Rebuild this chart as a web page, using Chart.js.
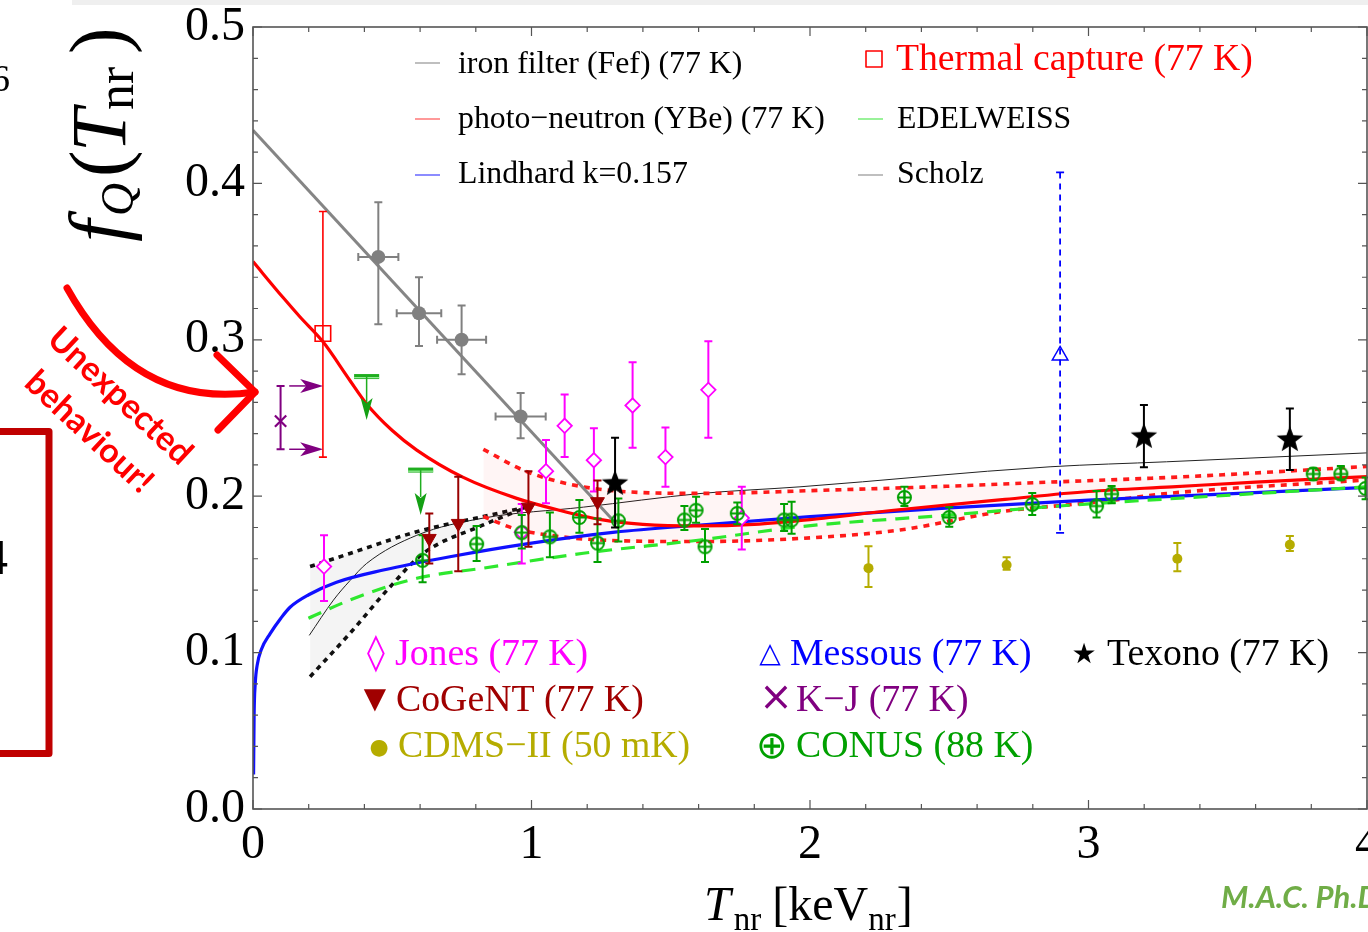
<!DOCTYPE html>
<html>
<head>
<meta charset="utf-8">
<script src="https://cdn.jsdelivr.net/npm/chart.js@4.4.1/dist/chart.umd.min.js"></script>
<style>
  html, body { margin: 0; padding: 0; background: #fff; overflow: hidden; }
  #wrap { position: relative; width: 1400px; height: 932px; }
</style>
</head>
<body>
<div id="wrap"><canvas id="chart"></canvas></div>
<script>
const SERIF = "'Liberation Serif', 'Times New Roman', 'DejaVu Serif', serif";
const SANS = "Lato, 'Open Sans', sans-serif";
const SYM = "'DejaVu Sans', 'Liberation Serif', sans-serif";

// axis ticks
const xTicks = [0, 1, 2, 3, 4];
const yTicks = [0, 0.1, 0.2, 0.3, 0.4, 0.5];

// fitted curves
const ironFitX = [0, 1.306];
const ironFitY = [0.434, 0.182];

const photoX = [0, 0.108, 0.169, 0.25, 0.348, 0.408, 0.5, 0.588, 0.755, 0.947, 1.1, 1.25, 1.4, 1.6, 1.8, 2.0, 2.3, 2.7, 3.0, 3.3, 3.6, 4.0];
const photoY = [0.350, 0.327, 0.3146, 0.299, 0.274, 0.259, 0.242, 0.2295, 0.212, 0.1986, 0.191, 0.185, 0.182, 0.181, 0.182, 0.185, 0.191, 0.198, 0.203, 0.206, 0.209, 0.2125];

const bandUpX = [0.827, 0.983, 1.222, 1.605, 2.08, 2.44, 2.862, 3.34, 4.0];
const bandUpY = [0.2300, 0.2157, 0.2050, 0.2018, 0.2040, 0.2060, 0.2090, 0.2124, 0.2190];
const bandLoX = [0.827, 0.935, 1.066, 1.246, 1.605, 1.964, 2.323, 2.682, 3.04, 3.281, 4.0];
const bandLoY = [0.1870, 0.1795, 0.1750, 0.1720, 0.1710, 0.1730, 0.1784, 0.1900, 0.1964, 0.2017, 0.2104];

const lindX = [0.002, 0.004, 0.008, 0.015, 0.03, 0.061, 0.1, 0.133, 0.2, 0.3, 0.468, 0.707, 1.0, 1.3, 1.605, 2.0, 2.5, 3.0, 3.5, 4.0];
const lindY = [0.022, 0.060, 0.080, 0.092, 0.102, 0.112, 0.122, 0.129, 0.137, 0.145, 0.1528, 0.1613, 0.170, 0.177, 0.1816, 0.187, 0.1925, 0.1975, 0.2015, 0.2056];

const edelX = [0.199, 0.348, 0.588, 0.827, 1.186, 1.605, 1.964, 2.5, 2.862, 3.04, 3.52, 4.0];
const edelY = [0.122, 0.1336, 0.1475, 0.154, 0.1635, 0.172, 0.1805, 0.188, 0.1933, 0.1955, 0.2008, 0.206];

const dotUpX = [0.205, 0.348, 0.588, 0.827, 0.983];
const dotUpY = [0.155, 0.1634, 0.1773, 0.187, 0.193];
const dotLoX = [0.205, 0.348, 0.492, 0.611, 0.827, 0.983];
const dotLoY = [0.0846, 0.1123, 0.142, 0.1634, 0.1816, 0.193];

const scholzX = [0.202, 0.289, 0.348, 0.408, 0.588, 0.827, 1.186, 1.605, 1.964, 2.862, 3.28, 4.0];
const scholzY = [0.111, 0.1336, 0.146, 0.157, 0.175, 0.186, 0.193, 0.2017, 0.206, 0.2188, 0.222, 0.2277];

// measurements
const ironX = [0.45, 0.596, 0.749, 0.961];
const ironY = [0.353, 0.317, 0.300, 0.251];
const ironHi = [0.388, 0.340, 0.322, 0.266];
const ironLo = [0.310, 0.296, 0.278, 0.237];
const ironXErr = [0.072, 0.080, 0.088, 0.090];

const thermX = [0.251];
const thermY = [0.304];
const thermHi = [0.382];
const thermLo = [0.225];

const kjX = [0.099];
const kjY = [0.248];
const kjHi = [0.2705];
const kjLo = [0.230];
const kjArrowFrom = 0.13;
const kjArrowTo = 0.252;

const limX = [0.408, 0.602];
const limY = [0.2765, 0.2167];
const limTip = [0.2487, 0.188];
const limHalf = 0.045;

const jonesX = [0.255, 0.965, 1.052, 1.119, 1.224, 1.363, 1.481, 1.635, 1.755];
const jonesY = [0.155, 0.177, 0.216, 0.245, 0.223, 0.258, 0.225, 0.268, 0.186];
const jonesHi = [0.175, 0.195, 0.236, 0.265, 0.2435, 0.2856, 0.244, 0.299, 0.206];
const jonesLo = [0.133, 0.157, 0.1955, 0.225, 0.203, 0.231, 0.206, 0.2374, 0.166];

const cogentX = [0.633, 0.737, 0.989, 1.237];
const cogentY = [0.173, 0.1826, 0.193, 0.1965];
const cogentHi = [0.189, 0.2125, 0.216, 0.210];
const cogentLo = [0.157, 0.152, 0.1677, 0.182];

const texonoX = [1.30, 3.199, 3.723];
const texonoY = [0.208, 0.238, 0.236];
const texonoHi = [0.2374, 0.2583, 0.256];
const texonoLo = [0.180, 0.2185, 0.2167];

const messousX = [2.898];
const messousY = [0.290];
const messousHi = [0.407];
const messousLo = [0.1765];

const cdmsX = [2.21, 2.706, 3.319, 3.723];
const cdmsY = [0.154, 0.156, 0.160, 0.169];
const cdmsHi = [0.168, 0.161, 0.170, 0.1745];
const cdmsLo = [0.142, 0.153, 0.152, 0.165];

const conusX = [0.609, 0.803, 0.965, 1.066, 1.172, 1.237, 1.312, 1.549, 1.591, 1.623, 1.739, 1.907, 1.934, 2.339, 2.50, 2.798, 3.029, 3.083, 3.807, 3.906, 3.995];
const conusY = [0.159, 0.1694, 0.1767, 0.174, 0.1864, 0.170, 0.1843, 0.1848, 0.191, 0.1677, 0.189, 0.1848, 0.1848, 0.1992, 0.1864, 0.1947, 0.1937, 0.2014, 0.2142, 0.2142, 0.205];
const conusHi = [0.175, 0.181, 0.188, 0.1895, 0.1976, 0.1857, 0.1985, 0.1937, 0.1997, 0.179, 0.196, 0.195, 0.1965, 0.206, 0.193, 0.202, 0.2033, 0.2065, 0.2178, 0.2193, 0.212];
const conusLo = [0.145, 0.1586, 0.1666, 0.161, 0.1767, 0.158, 0.171, 0.1784, 0.183, 0.158, 0.182, 0.1777, 0.176, 0.1937, 0.1805, 0.188, 0.1864, 0.1955, 0.2104, 0.2107, 0.198];

const pts = (xs, ys) => xs.map((v, i) => ({ x: v, y: ys[i] }));

// marker images
function starImg(r, color) {
  const c = document.createElement('canvas');
  c.width = c.height = 2 * r + 2;
  const g = c.getContext('2d');
  g.fillStyle = color;
  g.beginPath();
  for (let i = 0; i < 10; i++) {
    const a = -Math.PI / 2 + i * Math.PI / 5;
    const rr = i % 2 === 0 ? r : r * 0.42;
    g.lineTo(r + 1 + rr * Math.cos(a), r + 1 + rr * Math.sin(a));
  }
  g.closePath();
  g.fill();
  return c;
}
function oplusImg(r, color) {
  const c = document.createElement('canvas');
  c.width = c.height = 2 * r + 4;
  const g = c.getContext('2d');
  const m = r + 2;
  g.strokeStyle = color;
  g.lineWidth = 2;
  g.beginPath();
  g.arc(m, m, r, 0, Math.PI * 2);
  g.moveTo(m - r, m); g.lineTo(m + r, m);
  g.moveTo(m, m - r); g.lineTo(m, m + r);
  g.stroke();
  return c;
}

const line = (label, xs, ys, color, width, extra) => Object.assign({
  label, data: pts(xs, ys), showLine: true, borderColor: color, borderWidth: width,
  pointRadius: 0, cubicInterpolationMode: 'monotone', fill: false
}, extra || {});

const marks = (label, xs, ys, extra) => Object.assign({
  label, data: pts(xs, ys), showLine: false
}, extra);

// error bars, arrows and limits, drawn just under each dataset
const errorBars = {
  id: 'errorBars',
  beforeDatasetDraw(chart, args) {
    const ds = chart.data.datasets[args.index];
    const { ctx, scales: { x, y } } = chart;
    ctx.save();
    if (ds.yHi) {
      ctx.strokeStyle = ds.errColor;
      ctx.lineWidth = ds.errWidth || 2;
      ds.data.forEach((p, i) => {
        const px = x.getPixelForValue(p.x);
        const t = y.getPixelForValue(ds.yHi[i]);
        const b = y.getPixelForValue(ds.yLo[i]);
        ctx.setLineDash(ds.errDash || []);
        ctx.beginPath(); ctx.moveTo(px, t); ctx.lineTo(px, b); ctx.stroke();
        ctx.setLineDash([]);
        ctx.beginPath();
        ctx.moveTo(px - 4, t); ctx.lineTo(px + 4, t);
        ctx.moveTo(px - 4, b); ctx.lineTo(px + 4, b);
        if (ds.xErr) {
          const py = y.getPixelForValue(p.y);
          const l = x.getPixelForValue(p.x - ds.xErr[i]);
          const r = x.getPixelForValue(p.x + ds.xErr[i]);
          ctx.moveTo(l, py); ctx.lineTo(r, py);
          ctx.moveTo(l, py - 4); ctx.lineTo(l, py + 4);
          ctx.moveTo(r, py - 4); ctx.lineTo(r, py + 4);
        }
        ctx.stroke();
      });
    }
    if (ds.arrowTo !== undefined) {
      ctx.strokeStyle = ds.errColor; ctx.fillStyle = ds.errColor; ctx.lineWidth = 1.5;
      [ds.yHi[0], ds.yLo[0]].forEach(v => {
        const py = y.getPixelForValue(v);
        const a = x.getPixelForValue(ds.arrowFrom);
        const b = x.getPixelForValue(ds.arrowTo);
        ctx.beginPath(); ctx.moveTo(a, py); ctx.lineTo(b - 16, py); ctx.stroke();
        ctx.beginPath();
        ctx.moveTo(b, py); ctx.lineTo(b - 23, py - 7); ctx.lineTo(b - 17, py); ctx.lineTo(b - 23, py + 7);
        ctx.closePath(); ctx.fill();
      });
    }
    if (ds.limTip) {
      ds.data.forEach((p, i) => {
        const px = x.getPixelForValue(p.x);
        const py = y.getPixelForValue(p.y);
        const tip = y.getPixelForValue(ds.limTip[i]);
        const l = x.getPixelForValue(p.x - ds.limHalf);
        const r = x.getPixelForValue(p.x + ds.limHalf);
        ctx.fillStyle = '#1fae1f';
        ctx.fillRect(l, py - 2.5, r - l, 5);
        ctx.fillStyle = '#9cf09c';
        ctx.fillRect(l, py + 0.5, r - l, 1.2);
        ctx.strokeStyle = '#1fae1f'; ctx.lineWidth = 1.5;
        ctx.beginPath(); ctx.moveTo(px, py); ctx.lineTo(px, tip - 18); ctx.stroke();
        ctx.fillStyle = '#14a014';
        ctx.beginPath();
        ctx.moveTo(px, tip); ctx.lineTo(px - 6, tip - 22); ctx.lineTo(px, tip - 17); ctx.lineTo(px + 6, tip - 22);
        ctx.closePath(); ctx.fill();
      });
    }
    ctx.restore();
  }
};

// box frame with inward ticks
const frame = {
  id: 'frame',
  afterDatasetsDraw(chart) {
    const { ctx, chartArea: a, scales: { x, y } } = chart;
    ctx.save();
    ctx.strokeStyle = '#555';
    ctx.lineWidth = 1.6;
    ctx.strokeRect(a.left, a.top, a.right - a.left, a.bottom - a.top);
    ctx.lineWidth = 1.2;
    ctx.beginPath();
    for (let i = 0; i <= 20; i++) {
      const px = x.getPixelForValue(i * 0.2);
      const L = i % 5 === 0 ? 9 : 5;
      ctx.moveTo(px, a.bottom); ctx.lineTo(px, a.bottom - L);
      ctx.moveTo(px, a.top); ctx.lineTo(px, a.top + L);
    }
    for (let i = 0; i <= 25; i++) {
      const py = y.getPixelForValue(i * 0.02);
      const L = i % 5 === 0 ? 9 : 5;
      ctx.moveTo(a.left, py); ctx.lineTo(a.left + L, py);
      ctx.moveTo(a.right, py); ctx.lineTo(a.right - L, py);
    }
    ctx.stroke();
    ctx.restore();
  }
};

function txt(ctx, s, x, y, size, color, style) {
  ctx.font = (style || '') + ' ' + size + 'px ' + SERIF;
  ctx.fillStyle = color;
  ctx.fillText(s, x, y);
  return ctx.measureText(s).width;
}

// legends, titles and slide annotations
const decor = {
  id: 'decor',
  afterDraw(chart) {
    const ctx = chart.ctx;
    ctx.save();
    ctx.textBaseline = 'alphabetic';
    ctx.textAlign = 'left';

    // slide remnants
    ctx.fillStyle = '#efefef';
    ctx.fillRect(72, 0, 1296, 5);
    txt(ctx, '6', -9, 91, 38, '#000');
    txt(ctx, '4', -17, 574, 50, '#000');
    ctx.strokeStyle = '#c00000'; ctx.lineWidth = 7; ctx.lineJoin = 'round';
    ctx.strokeRect(-20, 431.5, 69, 322);

    // top legend
    const samples = [
      [415, 63, '#aaaaaa'], [415, 119, '#ff7777'], [415, 175, '#6666ff'],
      [858, 119, '#77ee77'], [858, 175, '#aaaaaa']
    ];
    ctx.lineWidth = 1.5;
    samples.forEach(s => {
      ctx.strokeStyle = s[2];
      ctx.beginPath(); ctx.moveTo(s[0], s[1]); ctx.lineTo(s[0] + 25, s[1]); ctx.stroke();
    });
    txt(ctx, 'iron filter (Fef) (77 K)', 458, 73, 31.8, '#000');
    txt(ctx, 'photo\u2212neutron (YBe) (77 K)', 458, 128, 31.8, '#000');
    txt(ctx, 'Lindhard k=0.157', 458, 183, 31.8, '#000');
    txt(ctx, 'EDELWEISS', 897, 128, 31.8, '#000');
    txt(ctx, 'Scholz', 897, 183, 31.8, '#000');
    ctx.strokeStyle = '#ff0000'; ctx.lineWidth = 1.6;
    ctx.strokeRect(866, 51, 16, 16);
    txt(ctx, 'Thermal capture (77 K)', 896, 70, 37.7, '#ff0000');

    // bottom legend: symbol glyph, centre, size, colour, label, label x, baseline
    const leg = [
      ['\u25CA', 376, 655, 36, '#ff00ff', 'Jones (77 K)', 395, 665],
      ['\u25B3', 770, 655, 28, '#0000ff', 'Messous (77 K)', 790, 665],
      ['\u2605', 1084, 656, 28, '#000000', 'Texono (77 K)', 1107, 665],
      ['\u25BC', 375, 700, 29, '#a00000', 'CoGeNT (77 K)', 396, 711],
      ['\u00D7', 776, 700, 40, '#800080', 'K\u2212J (77 K)', 796, 711],
      ['\u25CF', 379, 748, 22, '#b5ac00', 'CDMS\u2212II (50 mK)', 398, 757],
      ['\u2295', 772, 748, 38, '#00a000', 'CONUS (88 K)', 796, 757]
    ];
    leg.forEach(l => {
      ctx.textAlign = 'center'; ctx.textBaseline = 'middle';
      ctx.font = l[3] + 'px ' + SYM;
      ctx.fillStyle = l[4];
      ctx.fillText(l[0], l[1], l[2]);
      ctx.textAlign = 'left'; ctx.textBaseline = 'alphabetic';
      txt(ctx, l[5], l[6], l[7], 37.8, l[4]);
    });

    // y title, rotated
    ctx.save();
    ctx.translate(125, 252);
    ctx.rotate(-Math.PI / 2);
    txt(ctx, 'f', 10, 0, 80, '#000', 'italic');
    txt(ctx, 'Q', 36, 8, 46, '#000', 'italic');
    txt(ctx, '(', 75, 0, 80, '#000');
    txt(ctx, 'T', 100, 0, 78, '#000', 'italic');
    txt(ctx, 'nr', 142, 8, 52, '#000');
    txt(ctx, ')', 198, 0, 80, '#000');
    ctx.restore();

    // x title
    let cx = 704;
    cx += txt(ctx, 'T', cx, 920, 48, '#000', 'italic') + 3;
    cx += txt(ctx, 'nr', cx, 930, 33, '#000') + 11;
    cx += txt(ctx, '[keV', cx, 920, 48, '#000');
    cx += txt(ctx, 'nr', cx, 930, 33, '#000') + 1;
    txt(ctx, ']', cx, 920, 48, '#000');

    // annotation arrow and text
    ctx.strokeStyle = '#ff0000'; ctx.lineWidth = 7; ctx.lineCap = 'round'; ctx.lineJoin = 'round';
    ctx.beginPath();
    ctx.moveTo(67, 288);
    ctx.quadraticCurveTo(135, 410, 255, 392);
    ctx.stroke();
    ctx.beginPath();
    ctx.moveTo(217, 355); ctx.lineTo(255, 392); ctx.lineTo(218, 430);
    ctx.stroke();
    ctx.fillStyle = '#ff0000';
    ctx.font = 'bold 34px ' + SANS;
    ctx.textAlign = 'center'; ctx.textBaseline = 'middle';
    [['Unexpected', 120, 396], ['behaviour!', 89, 432]].forEach(t => {
      ctx.save();
      ctx.translate(t[1], t[2]);
      ctx.rotate(43 * Math.PI / 180);
      ctx.fillText(t[0], 0, 0);
      ctx.restore();
    });

    ctx.textAlign = 'left'; ctx.textBaseline = 'alphabetic';
    ctx.fillStyle = '#70ad47';
    ctx.font = 'italic bold 31px ' + SANS;
    ctx.fillText('M.A.C. Ph.D.', 1221, 908);
    ctx.restore();
  }
};

const datasets = [
  marks('Texono (77 K)', texonoX, texonoY, {
    order: 1, pointStyle: starImg(14, '#000'), pointRadius: 14,
    yHi: texonoHi, yLo: texonoLo, errColor: '#000'
  }),
  marks('Thermal capture (77 K)', thermX, thermY, {
    order: 2, pointStyle: 'rect', pointRadius: 11, borderColor: '#ff0000', borderWidth: 1.6,
    backgroundColor: 'rgba(255,255,255,0)', yHi: thermHi, yLo: thermLo, errColor: '#ff0000', errWidth: 1.6
  }),
  marks('CoGeNT (77 K)', cogentX, cogentY, {
    order: 3, pointStyle: 'triangle', rotation: 180, pointRadius: 8, borderColor: '#a00000',
    backgroundColor: '#a00000', yHi: cogentHi, yLo: cogentLo, errColor: '#990000'
  }),
  marks('CONUS (88 K)', conusX, conusY, {
    order: 4, pointStyle: oplusImg(6.5, '#00a000'), pointRadius: 7,
    yHi: conusHi, yLo: conusLo, errColor: '#00a000'
  }),
  marks('Jones (77 K)', jonesX, jonesY, {
    order: 5, pointStyle: 'rectRot', pointRadius: 7.2, borderColor: '#ff00ff', borderWidth: 1.8,
    backgroundColor: '#ffffff', yHi: jonesHi, yLo: jonesLo, errColor: '#ff00ff'
  }),
  marks('CDMS-II (50 mK)', cdmsX, cdmsY, {
    order: 6, pointStyle: 'circle', pointRadius: 5, borderWidth: 0, backgroundColor: '#b5ac00',
    yHi: cdmsHi, yLo: cdmsLo, errColor: '#b5ac00'
  }),
  marks('Messous (77 K)', messousX, messousY, {
    order: 7, pointStyle: 'triangle', pointRadius: 9, borderColor: '#0000ff', borderWidth: 1.5,
    backgroundColor: 'rgba(255,255,255,0)', yHi: messousHi, yLo: messousLo, errColor: '#0000ff',
    errDash: [6, 5], errWidth: 1.8
  }),
  marks('K-J (77 K)', kjX, kjY, {
    order: 8, pointStyle: 'crossRot', pointRadius: 8, borderColor: '#800080', borderWidth: 2.2,
    yHi: kjHi, yLo: kjLo, errColor: '#800080', arrowFrom: kjArrowFrom, arrowTo: kjArrowTo
  }),
  marks('limits', limX, limY, { order: 8, pointRadius: 0, limTip: limTip, limHalf: limHalf }),
  marks('iron filter points', ironX, ironY, {
    order: 9, pointStyle: 'circle', pointRadius: 7, borderWidth: 0, backgroundColor: '#808080',
    yHi: ironHi, yLo: ironLo, xErr: ironXErr, errColor: '#808080'
  }),
  line('iron filter (Fef) (77 K)', ironFitX, ironFitY, '#858585', 3, { order: 10, tension: 0 }),
  line('photo-neutron (YBe) (77 K)', photoX, photoY, '#ff0000', 3.2, { order: 11 }),
  line('EDELWEISS', edelX, edelY, '#2ee82e', 3.2, { order: 12, borderDash: [14, 9] }),
  line('Lindhard k=0.157', lindX, lindY, '#1010ff', 3.2, { order: 13 }),
  line('band upper', bandUpX, bandUpY, '#ff1a1a', 3.6, {
    order: 14, borderDash: [6, 6], fill: '+1', backgroundColor: 'rgba(255,0,0,0.04)'
  }),
  line('band lower', bandLoX, bandLoY, '#ff1a1a', 3.6, { order: 15, borderDash: [6, 6] }),
  line('dotted upper', dotUpX, dotUpY, '#111', 3.6, {
    order: 16, borderDash: [5, 5], fill: '+1', backgroundColor: 'rgba(0,0,0,0.045)'
  }),
  line('dotted lower', dotLoX, dotLoY, '#111', 3.6, { order: 17, borderDash: [5, 5] }),
  line('Scholz', scholzX, scholzY, '#222', 1, { order: 18 })
];

new Chart(document.getElementById('chart'), {
  type: 'scatter',
  data: { datasets },
  options: {
    responsive: true,
    maintainAspectRatio: false,
    animation: false,
    events: [],
    layout: { padding: { top: 27, right: 33, left: 0, bottom: 0 } },
    plugins: { legend: { display: false }, tooltip: { enabled: false } },
    scales: {
      x: {
        type: 'linear', min: 0, max: 4,
        grid: { display: false }, border: { display: false },
        afterBuildTicks: s => { s.ticks = xTicks.map(v => ({ value: v })); },
        afterFit: s => { s.height = 123; s.paddingLeft = 0; s.paddingRight = 0; },
        ticks: {
          padding: 4, maxRotation: 0, autoSkip: false, color: '#000',
          font: { family: SERIF, size: 48, lineHeight: 1 },
          callback: v => String(v)
        }
      },
      y: {
        type: 'linear', min: 0, max: 0.5,
        grid: { display: false }, border: { display: false },
        afterBuildTicks: s => { s.ticks = yTicks.map(v => ({ value: v })); },
        afterFit: s => { s.width = 253; s.paddingTop = 0; s.paddingBottom = 0; },
        ticks: {
          padding: 0, autoSkip: false, color: '#000',
          font: { family: SERIF, size: 48, lineHeight: 1 },
          callback: v => v.toFixed(1)
        }
      }
    }
  },
  plugins: [errorBars, frame, decor]
});
</script>
</body>
</html>
